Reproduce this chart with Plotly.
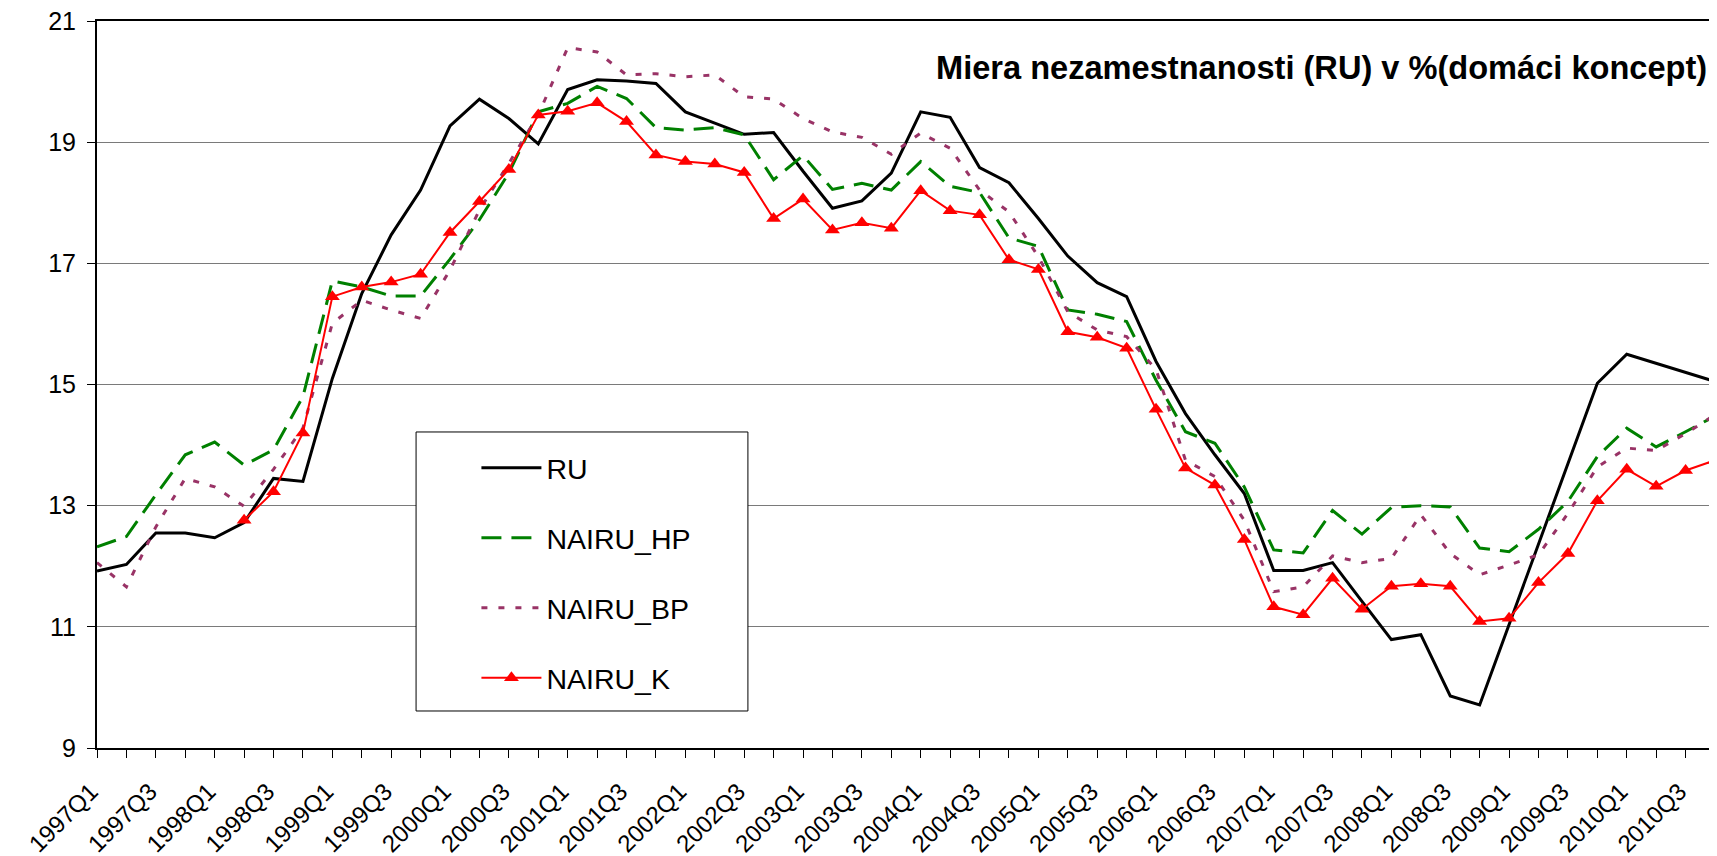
import plotly.graph_objects as go

quarters = [f"{y}Q{q}" for y in range(1997, 2011) for q in range(1, 5)]
tick_text = [q if q.endswith("Q1") or q.endswith("Q3") else "" for q in quarters]

ru = [11.92, 12.03, 12.55, 12.55, 12.47, 12.72, 13.45, 13.40, 15.10, 16.50,
      17.47, 18.21, 19.27, 19.71, 19.39, 18.97, 19.87, 20.03, 20.01, 19.97,
      19.50, 19.32, 19.13, 19.16, 18.52, 17.91, 18.03, 18.49, 19.50, 19.41,
      18.58, 18.33, 17.74, 17.12, 16.68, 16.45, 15.38, 14.52, 13.84, 13.20,
      11.93, 11.93, 12.06, 11.42, 10.79, 10.87, 9.86, 9.71, 11.03, 12.36,
      13.70, 15.02, 15.50, 15.35, 15.21, 15.05]

nairu_hp = [12.32, 12.49, 13.18, 13.84, 14.05, 13.67, 13.92, 14.80, 16.71, 16.61,
            16.46, 16.46, 17.07, 17.72, 18.49, 19.50, 19.64, 19.92, 19.72, 19.24,
            19.20, 19.24, 19.12, 18.38, 18.78, 18.22, 18.32, 18.21, 18.68, 18.27,
            18.17, 17.42, 17.28, 16.23, 16.16, 16.04, 15.07, 14.22, 14.03, 13.31,
            12.27, 12.22, 12.92, 12.53, 12.97, 13.00, 12.98, 12.30, 12.24, 12.61,
            13.07, 13.81, 14.28, 13.97, 14.22, 14.48]

nairu_bp = [12.06, 11.66, 12.65, 13.45, 13.31, 12.99, 13.60, 14.28, 16.01, 16.39,
            16.23, 16.09, 16.89, 17.88, 18.65, 19.45, 20.56, 20.49, 20.11, 20.13,
            20.08, 20.11, 19.75, 19.71, 19.39, 19.17, 19.08, 18.80, 19.15, 18.90,
            18.21, 17.85, 17.11, 16.20, 15.90, 15.79, 15.25, 13.75, 13.48, 12.76,
            11.58, 11.66, 12.17, 12.06, 12.13, 12.85, 12.21, 11.86, 12.02, 12.19,
            12.87, 13.64, 13.95, 13.91, 14.19, 14.50]

nairu_k = [None, None, None, None, None, 12.76, 13.23, 14.20, 16.45, 16.61,
           16.69, 16.82, 17.51, 18.02, 18.55, 19.45, 19.51, 19.65, 19.34, 18.79,
           18.68, 18.64, 18.50, 17.74, 18.06, 17.55, 17.67, 17.58, 18.20, 17.87,
           17.80, 17.06, 16.90, 15.87, 15.78, 15.60, 14.59, 13.62, 13.34, 12.44,
           11.33, 11.20, 11.80, 11.29, 11.67, 11.71, 11.67, 11.09, 11.14, 11.73,
           12.21, 13.08, 13.60, 13.32, 13.58, 13.75]

FONT = "Liberation Sans, Arial, sans-serif"

fig = go.Figure()
fig.add_trace(go.Scatter(x=quarters, y=ru, name="RU", mode="lines", legendgroup="a",
                         line=dict(color="#000000", width=3)))
fig.add_trace(go.Scatter(x=quarters, y=nairu_hp, name="NAIRU_HP", mode="lines", legendgroup="b",
                         line=dict(color="#008000", width=3, dash="20px,10px")))
fig.add_trace(go.Scatter(x=quarters, y=nairu_bp, name="NAIRU_BP", mode="lines", legendgroup="c",
                         line=dict(color="#993366", width=3, dash="6px,11px")))
fig.add_trace(go.Scatter(x=quarters, y=nairu_k, name="NAIRU_K", mode="lines+markers", legendgroup="d",
                         line=dict(color="#FF0000", width=2),
                         marker=dict(symbol="triangle-up", size=13, color="#FF0000")))

fig.update_layout(
    width=1709, height=848,
    margin=dict(l=89, r=2, t=13, b=108),
    plot_bgcolor="white", paper_bgcolor="white",
    font=dict(family=FONT, color="black", size=24),
    showlegend=True,
    legend=dict(x=0.2345, y=0.42, xanchor="left", yanchor="top",
                bgcolor="rgba(0,0,0,0)", borderwidth=0,
                font=dict(family=FONT, size=28.5, color="black"),
                itemwidth=60, tracegroupgap=30),
    xaxis=dict(type="category", categoryorder="array", categoryarray=quarters,
               range=[0, len(quarters) - 1],
               tickmode="array", tickvals=quarters, ticktext=tick_text,
               tickangle=-45, ticks="outside", ticklen=8, tickcolor="black", tickwidth=1,
               showline=True, linecolor="black", linewidth=2, mirror=True,
               showgrid=False, automargin=False, ticklabeloverflow="allow",
               ticklabelstandoff=10, ticklabelshift=-6,
               tickfont=dict(size=24, family=FONT)),
    yaxis=dict(range=[9, 21], dtick=2, tick0=9,
               ticks="outside", ticklen=8, tickcolor="black", tickwidth=1,
               showline=True, linecolor="black", linewidth=2, mirror=True,
               showgrid=True, gridcolor="#7a7a7a", gridwidth=1,
               zeroline=False, automargin=False, ticklabeloverflow="allow",
               ticklabelstandoff=6,
               tickfont=dict(size=25, family=FONT)),
    shapes=[dict(type="rect", xref="paper", yref="paper",
                 x0=0.1972, x1=0.4023, y0=0.0509, y1=0.4347,
                 line=dict(color="black", width=1), fillcolor="white", layer="above")],
    annotations=[dict(text="<b>Miera nezamestnanosti (RU) v %(domáci koncept)</b>",
                      xref="paper", yref="paper", x=0.7565, y=0.9367,
                      xanchor="center", yanchor="middle", showarrow=False,
                      bgcolor="white", borderpad=8,
                      font=dict(family=FONT, size=32.6, color="black"))],
)

fig.write_html("out.html")
